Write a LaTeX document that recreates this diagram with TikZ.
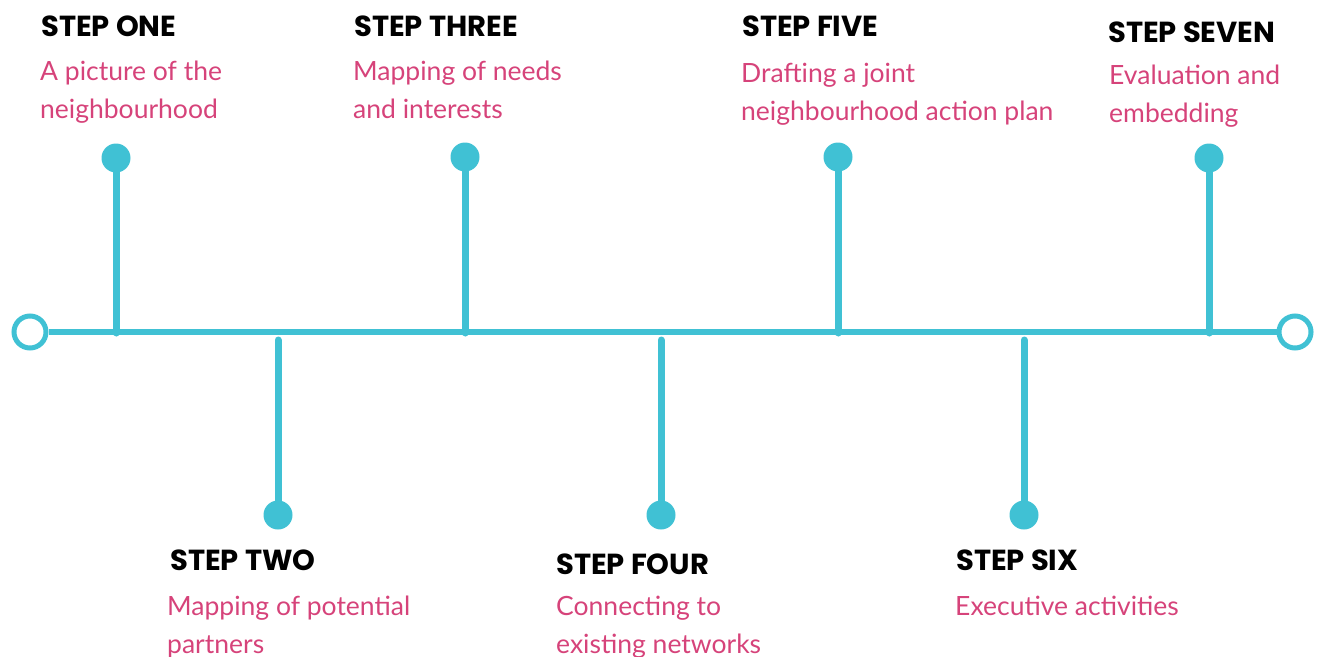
\documentclass[tikz,border=0pt]{standalone}
\usepackage{fontspec}
\newfontfamily\headfont{Poppins}[UprightFont=* Bold]
\newfontfamily\bodyfont{Lato}
\definecolor{tealc}{HTML}{40C1D4}
\definecolor{pinkc}{HTML}{D6437A}
\begin{document}
\begin{tikzpicture}[x=1pt,y=-1pt,
  endring/.style={circle,draw=tealc,line width=5pt,minimum size=32pt,inner sep=0pt,fill=white},
  pin/.style={circle,fill=tealc,minimum size=29pt,inner sep=0pt},
  stem/.style={draw=tealc,line width=7pt,line cap=round},
  axis/.style={draw=tealc,line width=6pt},
  head/.style={anchor=base west,inner sep=0pt,font=\headfont\fontsize{29}{31}\selectfont,text=black},
  desc/.style={anchor=base west,inner sep=0pt,align=left,text=pinkc,font=\bodyfont\fontsize{26.5}{38}\selectfont}]
\useasboundingbox (0,0) rectangle (1317,656);
% axis
\node[endring] (lc) at (30,332) {};
\node[endring] (rc) at (1295,332) {};
\draw[axis] (lc.east) -- (rc.west);
% base coordinates on axis
\coordinate (b1) at (116,333);
\coordinate (b3) at (465,333);
\coordinate (b5) at (838,333);
\coordinate (b7) at (1209,333);
\coordinate (b2) at (278,340);
\coordinate (b4) at (661,340);
\coordinate (b6) at (1024,340);
% pins
\node[pin] (d1) at (116,158) {};
\node[pin] (d3) at (465,157) {};
\node[pin] (d5) at (838,157) {};
\node[pin] (d7) at (1209,158) {};
\node[pin] (d2) at (278,515) {};
\node[pin] (d4) at (661,515) {};
\node[pin] (d6) at (1024,515) {};
\foreach \i in {1,...,7}{\draw[stem] (d\i.center) -- (b\i);}
% texts (desc nodes: base = last line)
\node[head] (h1) at (41,36) {STEP ONE};
\node[desc] (t1) at (40,118) {A picture of the\\neighbourhood};
\node[head] (h3) at (354,36) {STEP THREE};
\node[desc] (t3) at (353,118) {Mapping of needs\\and interests};
\node[head] (h5) at (742,36) {STEP FIVE};
\node[desc] (t5) at (741,120) {Drafting a joint\\neighbourhood action plan};
\node[head] (h7) at (1108,42) {STEP SEVEN};
\node[desc] (t7) at (1109,122) {Evaluation and\\embedding};
\node[head] (h2) at (170,570) {STEP TWO};
\node[desc] (t2) at (167,653) {Mapping of potential\\partners};
\node[head] (h4) at (556,574) {STEP FOUR};
\node[desc] (t4) at (556,653) {Connecting to\\existing networks};
\node[head] (h6) at (956,570) {STEP SIX};
\node[desc] (t6) at (955,615) {Executive activities};
\end{tikzpicture}
\end{document}
